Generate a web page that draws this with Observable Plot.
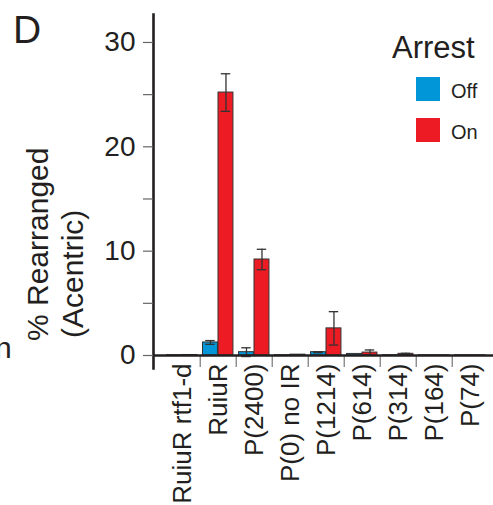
<!DOCTYPE html>
<html>
<head>
<meta charset="utf-8">
<script src="https://cdn.jsdelivr.net/npm/d3@7"></script>
<script src="https://cdn.jsdelivr.net/npm/@observablehq/plot@0.6"></script>
<style>
  html, body { margin: 0; padding: 0; background: #fff; overflow: hidden; }
  #wrap { position: relative; width: 493px; height: 505px; font-family: "Liberation Sans", Arial, Helvetica, sans-serif; }
  #wrap svg { position: absolute; left: 0; top: 0; }
</style>
</head>
<body>
<div id="wrap"></div>
<script>
const categories = ["RuiuR rtf1-d", "RuiuR", "P(2400)", "P(0) no IR", "P(1214)", "P(614)", "P(314)", "P(164)", "P(74)"];
const offValues = [0.03, 1.25, 0.32, 0.03, 0.32, 0.15, 0.03, 0.02, 0.02];
const offErrors = [0, 0.18, 0.42, 0, 0.05, 0, 0, 0, 0];
const onValues  = [0.05, 25.2, 9.2, 0.08, 2.6, 0.28, 0.16, 0.02, 0.02];
const onErrors  = [0, 1.8, 0.98, 0, 1.6, 0.25, 0.05, 0, 0];
const yTicks = [0, 10, 20, 30];
const yMinorTicks = [5, 15, 25];
const legendTitle = "Arrest";
const seriesNames = ["Off", "On"];
const seriesColors = ["#0096d8", "#ed1c24"];

const W = 493, H = 505;
const mL = 153, mR = 0, mT = 14, mB = 150, inL = 8, inR = 3;
const step = (W - mL - mR - inL - inR) / categories.length;
const ink = "#231f20";
const font = '"Liberation Sans", Arial, Helvetica, sans-serif';

const offRows = categories.map((c, i) => ({cat: c, v: offValues[i], e: offErrors[i]}));
const onRows = categories.map((c, i) => ({cat: c, v: onValues[i], e: onErrors[i]}));

function errMarks(rows, dx, capL, capR) {
  const r = rows.filter(d => d.e > 0);
  return [
    Plot.ruleX(r, {x: "cat", y1: d => d.v - d.e, y2: d => d.v + d.e, dx, stroke: "#333", strokeWidth: 1.3}),
    Plot.tickY(r, {x: "cat", y: d => d.v + d.e, insetLeft: capL, insetRight: capR, stroke: "#333", strokeWidth: 1.3}),
    Plot.tickY(r, {x: "cat", y: d => d.v - d.e, insetLeft: capL, insetRight: capR, stroke: "#333", strokeWidth: 1.3})
  ];
}

const offL = 2.5, offR = step - 18, onL = 18, onR = step - 33.5;
const offC = (offL + (step - offR)) / 2, onC = (onL + (step - onR)) / 2;

const chart = Plot.plot({
  width: W, height: H,
  marginLeft: mL, marginRight: mR, marginTop: mT, marginBottom: mB,
  style: {fontFamily: font, color: ink, background: "transparent", overflow: "visible"},
  x: {type: "band", domain: categories, padding: 0, insetLeft: inL, insetRight: inR},
  y: {domain: [0, 32.68]},
  marks: [
    Plot.barY(offRows, {x: "cat", y: "v", fill: seriesColors[0], stroke: "#333", strokeWidth: 1, insetLeft: offL, insetRight: offR}),
    Plot.barY(onRows, {x: "cat", y: "v", fill: seriesColors[1], stroke: "#333", strokeWidth: 1, insetLeft: onL, insetRight: onR}),
    ...errMarks(offRows, offC - step / 2, offC - 5, step - offC - 5),
    ...errMarks(onRows, onC - step / 2, onC - 5, step - onC - 5),
    Plot.ruleX(categories.slice(1), {x: d => d, y1: 0, y2: -1.15, dx: -step / 2, stroke: "#777", strokeWidth: 1.2}),
    Plot.ruleY([0], {stroke: ink, strokeWidth: 2.6}),
    Plot.frame({anchor: "left", insetBottom: -13, stroke: ink, strokeWidth: 2.6}),
    Plot.axisY(yTicks, {tickSize: 10, tickPadding: 8, fontSize: 28, label: null, stroke: "#666", strokeWidth: 1.2, color: ink}),
    Plot.axisY(yMinorTicks, {tickSize: 10, tickFormat: () => "", label: null, stroke: "#666", strokeWidth: 1.2}),
    Plot.axisX({tickSize: 0, tickRotate: -90, tickPadding: 8, fontSize: 26, label: null, color: ink})
  ]
});

const wrap = document.getElementById("wrap");
wrap.appendChild(chart);

const ns = "http://www.w3.org/2000/svg";
const ov = d3.select(wrap).append("svg")
  .attr("width", W).attr("height", H)
  .attr("font-family", font).attr("fill", ink);

ov.append("text").attr("x", 13).attr("y", 43).attr("font-size", 39).text("D");
ov.append("text").attr("x", -5).attr("y", 358).attr("font-size", 30).text("n");

ov.append("text").attr("transform", "translate(48,341) rotate(-90)").attr("font-size", 30).text("% Rearranged");
ov.append("text").attr("transform", "translate(83,338) rotate(-90)").attr("font-size", 30).text("(Acentric)");

ov.append("text").attr("x", 392).attr("y", 58).attr("font-size", 31).text(legendTitle);
seriesNames.forEach((s, i) => {
  const top = 77 + i * 41;
  ov.append("rect").attr("x", 416).attr("y", top).attr("width", 24).attr("height", 24).attr("fill", seriesColors[i]);
  ov.append("text").attr("x", 451).attr("y", top + 21).attr("font-size", 20).text(s);
});
</script>
</body>
</html>
